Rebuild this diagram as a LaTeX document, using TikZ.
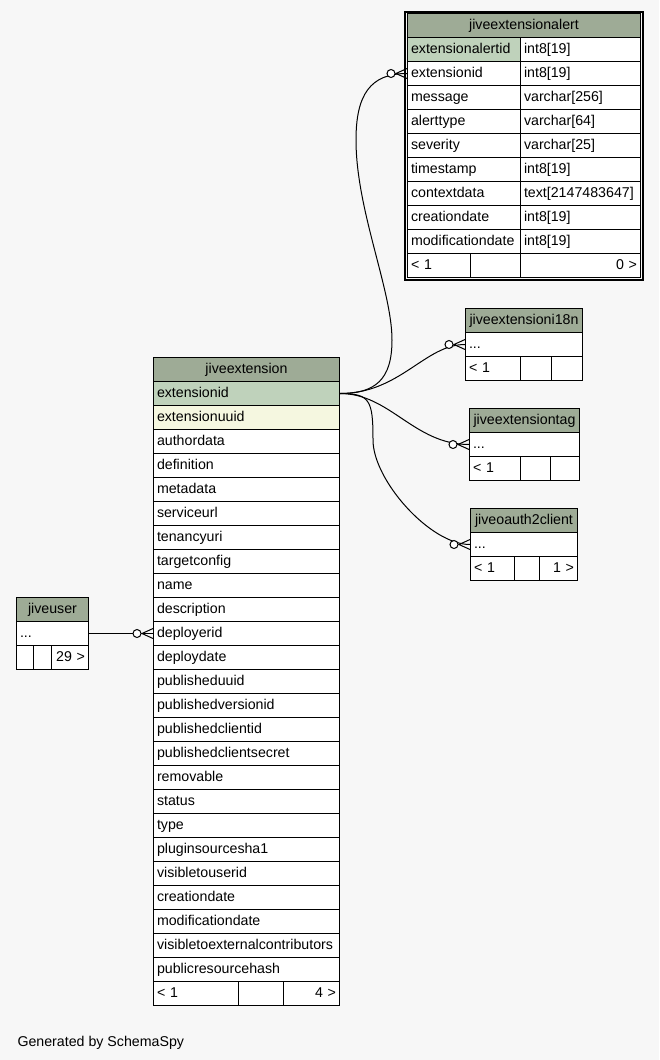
\documentclass[tikz,border=0pt]{standalone}
\usepackage{fontspec}
\setmainfont{Liberation Sans}
\usetikzlibrary{calc}

\definecolor{bgcol}{HTML}{F7F7F7}
\definecolor{hdrcol}{HTML}{9EAB96}
\definecolor{pkcol}{HTML}{BFD2BB}
\definecolor{idxcol}{HTML}{F5F7E0}

\begin{document}
\begin{tikzpicture}[x=1pt,y=-1pt,line width=1pt,
  font=\fontsize{14.2}{17}\selectfont,
  hdr/.style={draw,fill=hdrcol,anchor=north west,minimum width=#1,
    minimum height=24pt,inner sep=0pt,text height=10.5pt,text depth=3pt},
  cell/.style={draw,fill=white,anchor=north west,text width=#1,
    minimum height=24pt,inner xsep=3.5pt,inner ysep=0pt,align=left,
    text height=10.5pt,text depth=3pt},
  rcell/.style={cell=#1,align=right},
  crowfoot/.pic={
    \draw (0,-5) -- (-11,0) -- (0,5);
    \draw[fill=white] (-16,0) circle (4pt);
  }]
\fill[bgcol] (0,0) rectangle (659,1060);

% jiveextensionalert, the focused table.
\node[hdr=233pt] (alert) at (407,13) {jiveextensionalert};
\node[cell=106pt,fill=pkcol] (alert-1) at (407,37) {extensionalertid};
\node[cell=113pt] (alert-1t) at (520,37) {int8[19]};
\foreach \n/\ty [count=\i from 2] in {extensionid/int8[19],message/varchar[256],
    alerttype/varchar[64],severity/varchar[25],timestamp/int8[19],
    contextdata/text[2147483647],creationdate/int8[19],modificationdate/int8[19]}{
  \node[cell=106pt] (alert-\i) at (407,13+24*\i) {\n};
  \node[cell=113pt] (alert-\i t) at (520,13+24*\i) {\ty};
}
\node[cell=56pt] (alert-f1) at (407,253) {< 1};
\node[cell=43pt] (alert-f2) at (470,253) {};
\node[rcell=113pt] (alert-f3) at (520,253) {0 >};
\draw[line width=2.6pt] ($(alert.north west)+(-2,-1)$) rectangle ($(alert-f3.south east)+(2,2)$);

% jiveextension
\node[hdr=186pt] (ext) at (153,357) {jiveextension};
\node[cell=179pt,fill=pkcol] (ext-1) at (153,381) {extensionid};
\node[cell=179pt,fill=idxcol] (ext-2) at (153,405) {extensionuuid};
\foreach \n [count=\i from 3] in {authordata,definition,metadata,serviceurl,
    tenancyuri,targetconfig,name,description,deployerid,deploydate,
    publisheduuid,publishedversionid,publishedclientid,publishedclientsecret,
    removable,status,type,pluginsourcesha1,visibletouserid,creationdate,
    modificationdate,visibletoexternalcontributors,publicresourcehash}
  \node[cell=179pt] (ext-\i) at (153,357+24*\i) {\n};
\node[cell=78pt] (ext-f1) at (153,981) {< 1};
\node[cell=38pt] (ext-f2) at (238,981) {};
\node[rcell=49pt] (ext-f3) at (283,981) {4 >};

% jiveextensioni18n
\node[hdr=117pt] (i18n) at (465,308) {jiveextensioni18n};
\node[cell=110pt] (i18n-1) at (465,332) {...};
\node[cell=48pt] (i18n-f1) at (465,356) {< 1};
\node[cell=24pt] (i18n-f2) at (520,356) {};
\node[cell=24pt] (i18n-f3) at (551,356) {};

% jiveextensiontag
\node[hdr=110pt] (tag) at (469,408) {jiveextensiontag};
\node[cell=103pt] (tag-1) at (469,432) {...};
\node[cell=44pt] (tag-f1) at (469,456) {< 1};
\node[cell=23pt] (tag-f2) at (520,456) {};
\node[cell=22pt] (tag-f3) at (550,456) {};

% jiveoauth2client
\node[hdr=107pt] (oauth) at (470,508) {jiveoauth2client};
\node[cell=100pt] (oauth-1) at (470,532) {...};
\node[cell=37pt] (oauth-f1) at (470,556) {< 1};
\node[cell=18pt] (oauth-f2) at (514,556) {};
\node[rcell=31pt] (oauth-f3) at (539,556) {1 >};

% jiveuser
\node[hdr=72pt] (user) at (16,597) {jiveuser};
\node[cell=65pt] (user-1) at (16,621) {...};
\node[cell=10pt] (user-f1) at (16,645) {};
\node[cell=11pt] (user-f2) at (33,645) {};
\node[rcell=30pt] (user-f3) at (51,645) {29 >};

% Connect the tables.
\draw (user-1.east) -- (ext-11.west);
\draw (ext-1.east) .. controls +(35,0) and +(0,40) .. (392,340)
  .. controls +(0,-50) and +(0,70) .. (356,140)
  .. controls +(0,-45) and +(-37,0) .. (alert-2.west);
\draw (ext-1.east) .. controls +(60,0) and +(-40,0) .. (i18n-1.west);
\draw (ext-1.east) .. controls +(50,0) and +(-55,0) .. (tag-1.west);
\draw (ext-1.east) .. controls +(30,0) and +(0,-40) .. (373,440)
  .. controls +(0,40) and +(-40,0) .. (oauth-1.west);
\foreach \e in {ext-11,alert-2,i18n-1,tag-1,oauth-1}
  \pic at (\e.west) {crowfoot};

\node[anchor=base west,inner sep=0pt] (gen) at (17,1046) {Generated by SchemaSpy};
\end{tikzpicture}
\end{document}
